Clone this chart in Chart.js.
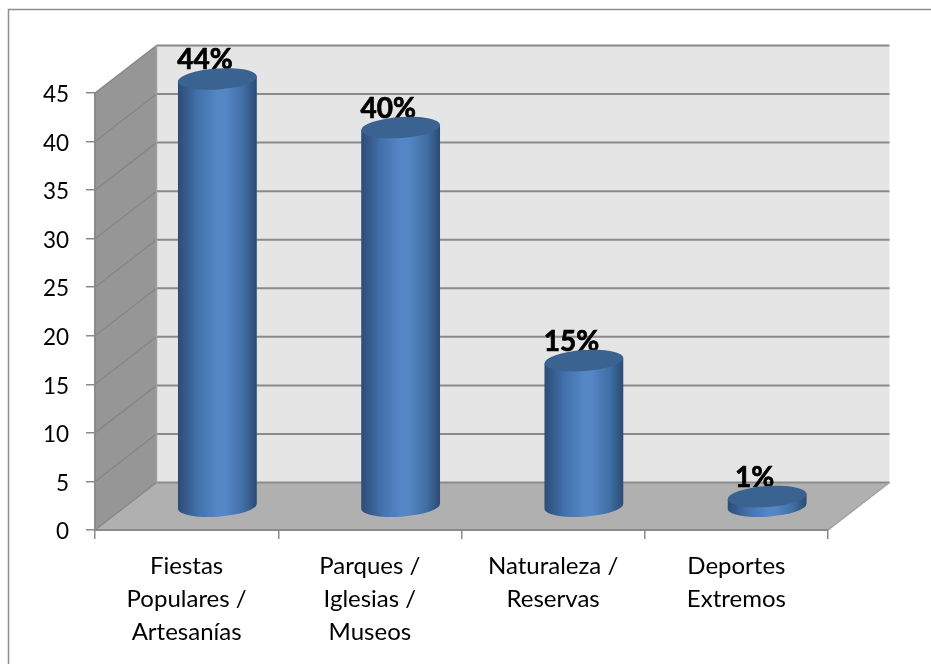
<!DOCTYPE html>
<html><head><meta charset="utf-8">
<style>html,body{margin:0;padding:0;background:#fff}canvas{display:block}</style>
<script src="https://cdn.jsdelivr.net/npm/chart.js@4"></script></head>
<body><canvas id="c" width="931" height="664"></canvas>
<script>
const categories = [["Fiestas","Populares /","Artesanías"],["Parques /","Iglesias /","Museos"],["Naturaleza /","Reservas"],["Deportes","Extremos"]];
const values = [44, 39, 15, 1];
const valueLabels = ["44%", "40%", "15%", "1%"];
const yTicks = [0,5,10,15,20,25,30,35,40,45];

const DX = 61.5, DY = -47.5, ROT = -0.07, RY = 10.5;
const GRAY = '#8a8a8a';

const scene = {
  id: 'scene',
  beforeDraw(chart) {
    const {ctx, chartArea: a} = chart;
    const y = chart.scales.y;
    ctx.save();
    ctx.fillStyle = '#fff'; ctx.fillRect(0,0,931,664);
    // outer frame
    ctx.strokeStyle = '#8e8e8e'; ctx.lineWidth = 1.5;
    ctx.beginPath(); ctx.moveTo(8.5,664); ctx.lineTo(8.5,9.5); ctx.lineTo(931,9.5); ctx.stroke();
    // back wall
    ctx.fillStyle = '#e5e5e5';
    ctx.fillRect(a.left+DX, a.top+DY, a.right-a.left, a.bottom-a.top);
    // left wall
    ctx.fillStyle = '#969696';
    ctx.beginPath(); ctx.moveTo(a.left,a.top); ctx.lineTo(a.left+DX,a.top+DY); ctx.lineTo(a.left+DX,a.bottom+DY); ctx.lineTo(a.left,a.bottom); ctx.closePath(); ctx.fill();
    // floor
    ctx.fillStyle = '#b0b0b0';
    ctx.beginPath(); ctx.moveTo(a.left,a.bottom); ctx.lineTo(a.left+DX,a.bottom+DY); ctx.lineTo(a.right+DX,a.bottom+DY); ctx.lineTo(a.right,a.bottom); ctx.closePath(); ctx.fill();
    // gridlines on walls
    y.ticks.forEach(t => {
      const py = y.getPixelForValue(t.value);
      ctx.strokeStyle = '#858585'; ctx.lineWidth = 1.3;
      ctx.beginPath(); ctx.moveTo(a.left,py); ctx.lineTo(a.left+DX,py+DY); ctx.stroke();
      ctx.strokeStyle = GRAY; ctx.lineWidth = 2;
      ctx.beginPath(); ctx.moveTo(a.left+DX,py+DY); ctx.lineTo(a.right+DX,py+DY); ctx.stroke();
    });
    ctx.strokeStyle = '#a0a0a0'; ctx.lineWidth = 1.5;
    ctx.beginPath(); ctx.moveTo(a.left+DX,a.top+DY); ctx.lineTo(a.left+DX,a.bottom+DY); ctx.stroke();
    ctx.beginPath(); ctx.moveTo(a.right,a.bottom); ctx.lineTo(a.right+DX,a.bottom+DY); ctx.stroke();
    ctx.restore();
  },
  afterDatasetsDraw(chart) {
    const {ctx} = chart;
    const meta = chart.getDatasetMeta(0);
    meta.data.forEach((bar, i) => {
      const cx = bar.x + DX/2, rx = 39.5;
      const topY = bar.y + DY/2, baseY = bar.base + DY/2 + 0.7;
      const ca = Math.cos(ROT)*rx, sa = Math.sin(ROT)*rx;
      ctx.save();
      // label sits behind the cylinder
      ctx.font = 'bold 28px Lato, sans-serif';
      ctx.fillStyle = '#000'; ctx.strokeStyle = '#000'; ctx.lineWidth = 0.7;
      ctx.textAlign = 'center'; ctx.textBaseline = 'alphabetic';
      ctx.fillText(valueLabels[i], cx - 12.5, topY - 9.5);
      ctx.strokeText(valueLabels[i], cx - 12.5, topY - 9.5);
      // body
      const g = ctx.createLinearGradient(cx-rx,0,cx+rx,0);
      g.addColorStop(0,'#2c4c78'); g.addColorStop(0.1,'#355a8a'); g.addColorStop(0.25,'#4271aa');
      g.addColorStop(0.5,'#5586c6'); g.addColorStop(0.6,'#5586c6');
      g.addColorStop(0.82,'#4170a6'); g.addColorStop(1,'#2b4a73');
      ctx.fillStyle = g;
      ctx.beginPath();
      ctx.ellipse(cx,baseY,rx,RY,ROT,0,Math.PI);
      ctx.lineTo(cx-ca,topY-sa);
      ctx.lineTo(cx+ca,topY+sa);
      ctx.closePath(); ctx.fill();
      // cap
      ctx.fillStyle = '#3b6392';
      ctx.beginPath(); ctx.ellipse(cx,topY,rx,RY,ROT,0,Math.PI*2); ctx.fill();
      ctx.restore();
    });
  }
};

new Chart(document.getElementById('c'), {
  type: 'bar',
  data: { labels: categories, datasets: [{ data: values, backgroundColor: 'rgba(0,0,0,0)', borderWidth: 0 }] },
  options: {
    responsive: false, animation: false,
    layout: { padding: { left: 0, top: 93, right: 103, bottom: 0 } },
    plugins: { legend: {display:false}, title:{display:false}, tooltip:{enabled:false} },
    scales: {
      x: {
        offset: true,
        afterFit(s){ s.height = 134; },
        grid: { drawOnChartArea:false, drawTicks:true, tickLength:9, color:GRAY, lineWidth:1.5, offset:true },
        border: { color:GRAY, width:2 },
        ticks: { color:'#000', font:{family:'Lato, sans-serif', size:24, lineHeight:33/24}, padding:11, maxRotation:0, autoSkip:false }
      },
      y: {
        min:0, max:45,
        afterFit(s){ s.width = 95; },
        afterBuildTicks(s){ s.ticks = yTicks.map(v => ({value:v})); },
        grid: { drawOnChartArea:false, drawTicks:true, tickLength:9, color:GRAY, lineWidth:1.5 },
        border: { color:GRAY, width:2 },
        ticks: { color:'#000', font:{family:'Lato, sans-serif', size:22.5}, padding:17, labelOffset:2 }
      }
    }
  },
  plugins: [scene]
});
</script></body></html>
